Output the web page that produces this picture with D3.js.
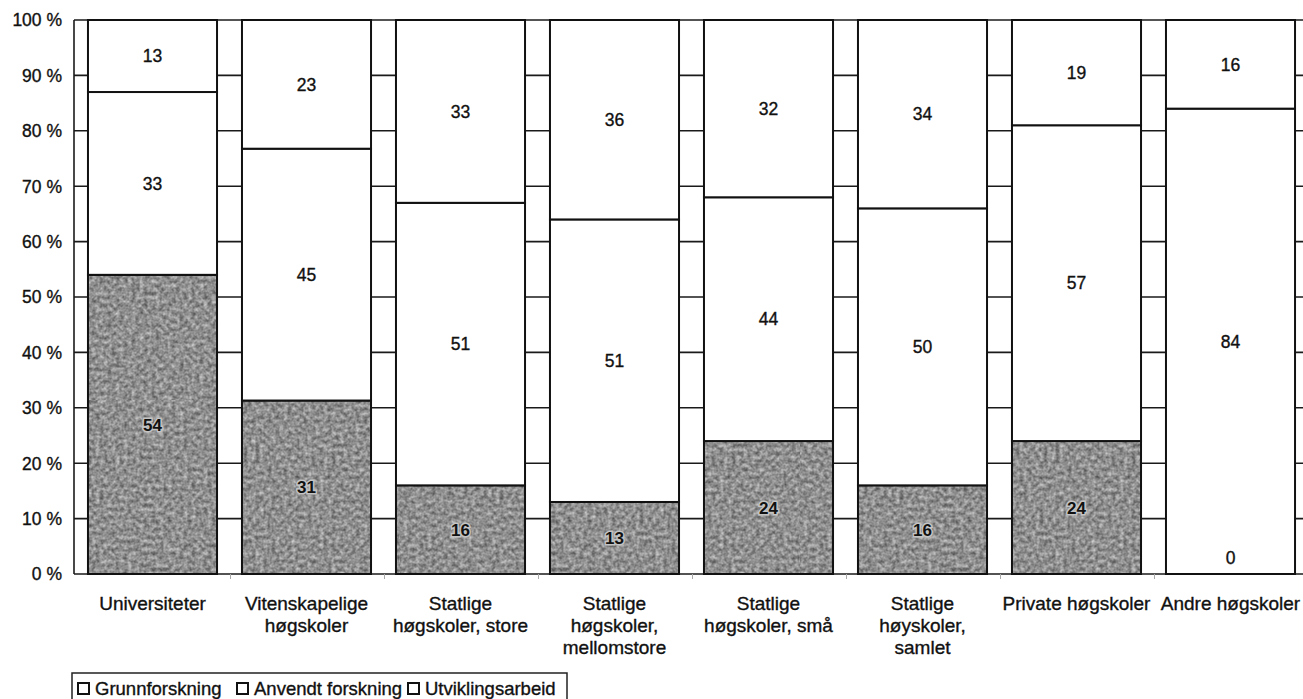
<!DOCTYPE html>
<html>
<head>
<meta charset="utf-8">
<script src="https://cdn.jsdelivr.net/npm/d3@7"></script>
<style>
  html, body { margin: 0; padding: 0; background: #fff; }
  svg { display: block; font-family: "Liberation Sans", Arial, sans-serif; }
  text.ink { stroke: #111; stroke-width: 0.35px; }
</style>
</head>
<body>
<svg id="chart" width="1303" height="699"></svg>
<script>
// ---- data ----
const categories = [
  "Universiteter",
  "Vitenskapelige\nhøgskoler",
  "Statlige\nhøgskoler, store",
  "Statlige\nhøgskoler,\nmellomstore",
  "Statlige\nhøgskoler, små",
  "Statlige\nhøyskoler,\nsamlet",
  "Private høgskoler",
  "Andre høgskoler"
];
const seriesNames = ["Grunnforskning", "Anvendt forskning", "Utviklingsarbeid"];
const grunnforskning   = [54, 31, 16, 13, 24, 16, 24, 0];
const anvendtForskning = [33, 45, 51, 51, 44, 50, 57, 84];
const utviklingsarbeid = [13, 23, 33, 36, 32, 34, 19, 16];
const yTicks = [0, 10, 20, 30, 40, 50, 60, 70, 80, 90, 100];

// ---- layout ----
const svg = d3.select("#chart");
const axisX = 74, plotTop = 20, plotBottom = 574, plotRight = 1303;

const x = d3.scaleBand()
  .domain(categories)
  .range([75.5, 1307.5])
  .paddingInner(0.162)
  .paddingOuter(0.081);

const y = d3.scaleLinear().domain([0, 100]).range([plotBottom, plotTop]);

// texture (deterministic noise filter)
const defs = svg.append("defs");
const filt = defs.append("filter").attr("id", "grain")
  .attr("x", 0).attr("y", 0).attr("width", 1).attr("height", 1)
  .attr("color-interpolation-filters", "sRGB");
filt.append("feTurbulence").attr("type", "fractalNoise")
  .attr("baseFrequency", 0.25).attr("numOctaves", 3).attr("seed", 11).attr("result", "noise");
filt.append("feColorMatrix").attr("in", "noise").attr("type", "matrix")
  .attr("values", "0.6 0 0 0 0.26  0.6 0 0 0 0.26  0.6 0 0 0 0.26  0 0 0 0 1");

const pat = defs.append("pattern").attr("id", "stipple")
  .attr("patternUnits", "userSpaceOnUse").attr("width", 400).attr("height", 400);
pat.append("rect").attr("width", 400).attr("height", 400).attr("fill", "#fff").attr("filter", "url(#grain)");

// gridlines
svg.append("g").selectAll("line").data(yTicks).join("line")
  .attr("x1", axisX).attr("x2", plotRight)
  .attr("y1", d => y(d)).attr("y2", d => y(d))
  .attr("stroke", "#1a1a1a").attr("stroke-width", 1.6);

// y axis line
svg.append("line").attr("x1", axisX).attr("x2", axisX)
  .attr("y1", plotTop).attr("y2", plotBottom)
  .attr("stroke", "#1a1a1a").attr("stroke-width", 1.6);

// y labels
svg.append("g").selectAll("text").data(yTicks).join("text")
  .attr("class", "ink")
  .attr("x", 62).attr("y", d => y(d)).attr("dy", "0.36em")
  .attr("text-anchor", "end").attr("font-size", 17.5).attr("fill", "#111")
  .text(d => d + " %");

// small ticks under axis at band boundaries
const boundaries = d3.range(categories.length + 1).map(i => 75.5 + i * x.step());
svg.append("g").selectAll("line").data(boundaries.slice(1, -1)).join("line")
  .attr("x1", d => d + 1).attr("x2", d => d + 1)
  .attr("y1", plotBottom).attr("y2", plotBottom + 5)
  .attr("stroke", "#aaa").attr("stroke-width", 1);

// stacked data (100% normalized)
const rows = categories.map((c, i) => ({
  cat: c,
  Grunnforskning: grunnforskning[i],
  "Anvendt forskning": anvendtForskning[i],
  Utviklingsarbeid: utviklingsarbeid[i]
}));
const stack = d3.stack().keys(seriesNames).offset(d3.stackOffsetExpand);
const layers = stack(rows);
const fills = { "Grunnforskning": "url(#stipple)", "Anvendt forskning": "#fff", "Utviklingsarbeid": "#fff" };

const gBars = svg.append("g");
layers.forEach(layer => {
  gBars.append("g").selectAll("rect").data(layer).join("rect")
    .attr("x", d => x(d.data.cat))
    .attr("width", x.bandwidth())
    .attr("y", d => y(d[1] * 100))
    .attr("height", d => y(d[0] * 100) - y(d[1] * 100))
    .attr("fill", fills[layer.key])
    .attr("stroke", "#111").attr("stroke-width", 2);
});

// data labels
const gLab = svg.append("g");
layers.forEach((layer, li) => {
  const sel = gLab.append("g").selectAll("text").data(layer).join("text")
    .attr("x", d => x(d.data.cat) + x.bandwidth() / 2)
    .attr("y", d => {
      const v = d.data[layer.key];
      return v === 0 ? y(0) - 16 : y((d[0] + d[1]) / 2 * 100);
    })
    .attr("dy", "0.36em")
    .attr("text-anchor", "middle").attr("font-size", 17.5).attr("fill", "#111")
    .text(d => d.data[layer.key]);
  if (li === 0) {
    sel.filter(d => d.data[layer.key] !== 0)
      .attr("stroke", "#c4c4c4").attr("stroke-width", 3).attr("paint-order", "stroke")
      .attr("font-weight", "bold").attr("font-size", 17);
    sel.filter(d => d.data[layer.key] === 0).attr("class", "ink");
  } else {
    sel.attr("class", "ink");
  }
});

// category labels
const gCat = svg.append("g");
categories.forEach(c => {
  const t = gCat.append("text").attr("class", "ink")
    .attr("x", x(c) + x.bandwidth() / 2).attr("y", 610)
    .attr("text-anchor", "middle").attr("font-size", 19).attr("fill", "#111");
  c.split("\n").forEach((line, i) => {
    t.append("tspan").attr("x", x(c) + x.bandwidth() / 2)
      .attr("dy", i === 0 ? 0 : 22).text(line);
  });
});

// legend
const lg = svg.append("g");
lg.append("rect").attr("x", 72).attr("y", 673).attr("width", 495).attr("height", 30)
  .attr("fill", "#fff").attr("stroke", "#222").attr("stroke-width", 1.5);
const legendX = [78, 237, 408];
seriesNames.forEach((s, i) => {
  lg.append("rect").attr("x", legendX[i]).attr("y", 683).attr("width", 11).attr("height", 11)
    .attr("fill", "#fff").attr("stroke", "#111").attr("stroke-width", 2);
  lg.append("text").attr("class", "ink").attr("x", legendX[i] + 17).attr("y", 695)
    .attr("font-size", 18.5).attr("fill", "#111").text(s);
});
</script>
</body>
</html>
